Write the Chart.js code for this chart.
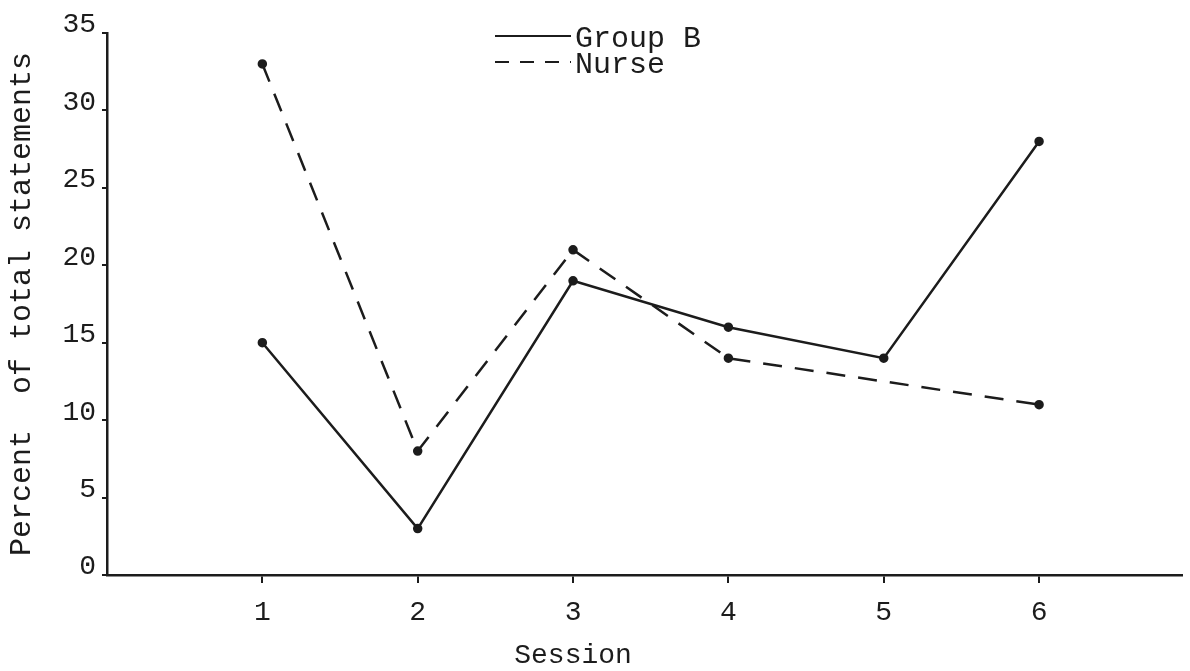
<!DOCTYPE html>
<html>
<head>
<meta charset="utf-8">
<script src="https://cdn.jsdelivr.net/npm/chart.js@4/dist/chart.umd.min.js"></script>
<style>
  html, body { margin: 0; padding: 0; background: #ffffff; }
  #wrap { width: 1190px; height: 671px; }
</style>
</head>
<body>
<div id="wrap"><canvas id="c" width="1190" height="671"></canvas></div>
<script>
// Session numbers on the x axis
const sessions = [1, 2, 3, 4, 5, 6];
// Percent of total statements per session
const groupB = [15, 3, 19, 16, 14, 28];
const nurse = [33, 8, 21, 14, null, 11];   // no reading for session 5
// Y axis tick values
const yTicks = [0, 5, 10, 15, 20, 25, 30, 35];

const INK = '#1c1c1c';
const FONT = "'Liberation Mono', 'Courier New', monospace";

const toPoints = (vals) => sessions.map((s, i) => ({ x: s, y: vals[i] }));

// Typewriter-style legend in the upper middle of the plot
const typedLegend = {
  id: 'typedLegend',
  afterDraw(chart) {
    const ctx = chart.ctx;
    const rows = [
      { ds: chart.data.datasets[0], y: 36, dash: [] },
      { ds: chart.data.datasets[1], y: 62, dash: [14, 11] }
    ];
    ctx.save();
    ctx.strokeStyle = INK;
    ctx.fillStyle = INK;
    ctx.lineWidth = 2.2;
    ctx.font = '30px ' + FONT;
    ctx.textBaseline = 'middle';
    rows.forEach(r => {
      ctx.setLineDash(r.dash);
      ctx.beginPath();
      ctx.moveTo(495, r.y);
      ctx.lineTo(571, r.y);
      ctx.stroke();
      ctx.setLineDash([]);
      ctx.fillText(r.ds.label, 575, r.y + 3);
    });
    ctx.restore();
  }
};

// "Session" caption below the axis, under the middle session
const sessionCaption = {
  id: 'sessionCaption',
  afterDraw(chart) {
    const ctx = chart.ctx;
    const xs = chart.scales.x;
    ctx.save();
    ctx.fillStyle = INK;
    ctx.font = '28px ' + FONT;
    ctx.textAlign = 'center';
    ctx.textBaseline = 'middle';
    ctx.fillText('Session', xs.getPixelForValue(sessions[2]), 656);
    ctx.restore();
  }
};

new Chart(document.getElementById('c'), {
  type: 'line',
  data: {
    datasets: [
      {
        label: 'Group B',
        data: toPoints(groupB),
        borderColor: INK,
        backgroundColor: INK,
        borderWidth: 2.5,
        pointRadius: 3.5,
        pointBackgroundColor: INK,
        pointBorderColor: INK,
        tension: 0
      },
      {
        label: 'Nurse',
        data: toPoints(nurse),
        borderColor: INK,
        backgroundColor: INK,
        borderWidth: 2.5,
        borderDash: [19, 13],
        pointRadius: 3.5,
        pointBackgroundColor: INK,
        pointBorderColor: INK,
        spanGaps: true,
        tension: 0
      }
    ]
  },
  options: {
    responsive: false,
    devicePixelRatio: 1,
    animation: false,
    layout: { padding: { top: 33, right: 8, left: 0, bottom: 0 } },
    plugins: {
      legend: { display: false },
      tooltip: { enabled: false }
    },
    scales: {
      x: {
        type: 'linear',
        min: 0,
        max: 6.92,
        afterBuildTicks: (scale) => { scale.ticks = sessions.map(v => ({ value: v })); },
        afterFit: (scale) => { scale.height = 96; },
        border: { display: true, color: INK, width: 2.5 },
        grid: { drawOnChartArea: false, drawTicks: true, tickLength: 8, color: INK, lineWidth: 2 },
        ticks: {
          color: INK,
          font: { family: FONT, size: 28 },
          padding: 13,
          maxRotation: 0,
          callback: (v) => String(v)
        }
      },
      y: {
        type: 'linear',
        min: 0,
        max: 35,
        afterBuildTicks: (scale) => { scale.ticks = yTicks.map(v => ({ value: v })); },
        afterFit: (scale) => { scale.width = 107; },
        border: { display: true, color: INK, width: 2.5 },
        grid: { drawOnChartArea: false, drawTicks: true, tickLength: 5, color: INK, lineWidth: 2 },
        ticks: {
          color: INK,
          font: { family: FONT, size: 28 },
          padding: 6,
          labelOffset: -8,
          callback: (v) => String(v)
        },
        title: {
          display: true,
          text: 'Percent  of total statements',
          color: INK,
          font: { family: FONT, size: 30 },
          padding: { top: 4, bottom: 0 }
        }
      }
    }
  },
  plugins: [typedLegend, sessionCaption]
});
</script>
</body>
</html>
